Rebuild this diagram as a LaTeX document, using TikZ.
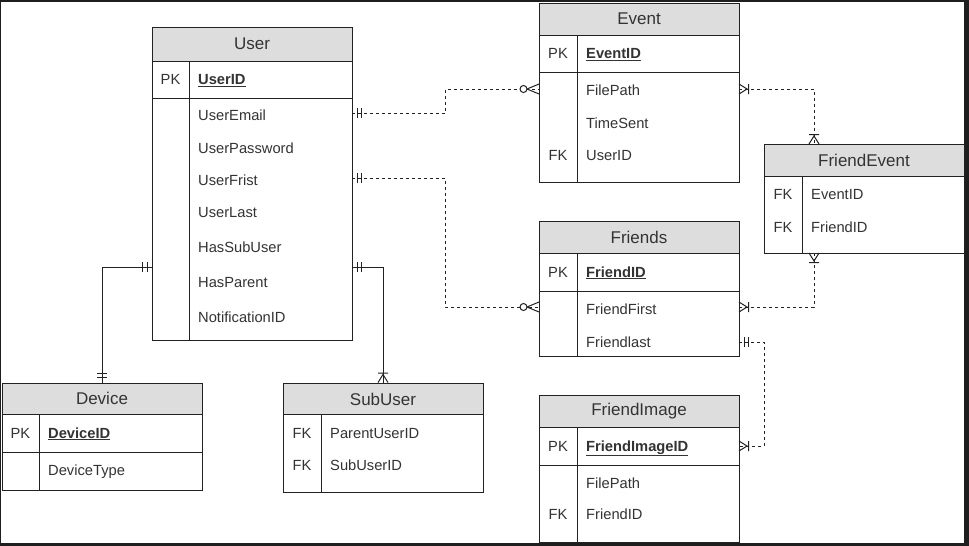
\documentclass[tikz,border=0pt]{standalone}
\usepackage{fontspec}
\setmainfont{Liberation Sans}
\definecolor{hdr}{HTML}{DDDDDD}
\definecolor{ink}{HTML}{222222}
\definecolor{txt}{HTML}{333333}
\definecolor{framecol}{HTML}{1E1E1E}
\tikzset{
  tbl/.style={draw=ink, line width=1pt, inner sep=0pt, anchor=north west, minimum width=200pt},
  sepline/.style={draw=ink, line width=1pt},
  ttl/.style={text=txt, font=\fontsize{17}{20}\selectfont, inner sep=0pt},
  fld/.style={text=txt, font=\fontsize{14.7}{17}\selectfont, inner sep=0pt, anchor=base west},
  keylbl/.style={text=txt, font=\fontsize{14.7}{17}\selectfont, inner sep=0pt, anchor=base},
  rel/.style={draw=ink, line width=1pt, dash pattern=on 3pt off 3pt},
  relsolid/.style={draw=ink, line width=1pt},
  mandone/.pic={\draw[ink, line width=1pt, solid] (5,-5)--(5,5) (9.5,-5)--(9.5,5);},
  onemany/.pic={\draw[ink, line width=1pt, solid] (0,-5)--(8,0)--(0,5) (9.5,-5)--(9.5,5);},
  zeromany/.pic={\draw[ink, line width=1pt, solid] (0,-5)--(12,0)--(0,5);
                 \draw[ink, line width=1pt, solid, fill=white] (15.5,0) circle[radius=3.5pt];},
}
\newcommand{\pkname}[1]{\underline{\textbf{#1}}}
\begin{document}
\begin{tikzpicture}[x=1pt,y=-1pt]
\useasboundingbox (0,0) rectangle (969,546);
\fill[framecol] (0,0) rectangle (969,546);
\fill[white] (1,2) rectangle (964,542.5);

% ---------- User ----------
\fill[hdr] (152,27) rectangle (352,61);
\node[tbl, minimum height=313pt] (user) at (152,27) {};
\draw[sepline] (152,61) -- (352,61) (152,98) -- (352,98) (189,61) -- (189,340);
\node[ttl] (userT) at (252,44) {User};
\node[keylbl] (userPK) at (170.5,84.5) {PK};
\node[fld] (userF0) at (198,84.5) {\pkname{UserID}};
\node[fld] (userF1) at (198,120) {UserEmail};
\node[fld] (userF2) at (198,153) {UserPassword};
\node[fld] (userF3) at (198,185) {UserFrist};
\node[fld] (userF4) at (198,217) {UserLast};
\node[fld] (userF5) at (198,252) {HasSubUser};
\node[fld] (userF6) at (198,287) {HasParent};
\node[fld] (userF7) at (198,322) {NotificationID};

% ---------- Event ----------
\fill[hdr] (539,3) rectangle (739,35);
\node[tbl, minimum height=179pt] (event) at (539,3) {};
\draw[sepline] (539,35) -- (739,35) (539,72) -- (739,72) (577,35) -- (577,182);
\node[ttl] (eventT) at (639,19) {Event};
\node[keylbl] (eventPK) at (558,58.5) {PK};
\node[fld] (eventF0) at (586,58.5) {\pkname{EventID}};
\node[fld] (eventF1) at (586,95) {FilePath};
\node[fld] (eventF2) at (586,128) {TimeSent};
\node[keylbl] (eventFK) at (558,160) {FK};
\node[fld] (eventF3) at (586,160) {UserID};

% ---------- FriendEvent ----------
\fill[hdr] (764,144) rectangle (964,176);
\node[tbl, minimum height=109pt] (fevent) at (764,144) {};
\draw[sepline] (764,176) -- (964,176) (802,176) -- (802,253);
\node[ttl] (feventT) at (864,160.5) {FriendEvent};
\node[keylbl] (feventK1) at (783,199) {FK};
\node[fld] (feventF1) at (811,199) {EventID};
\node[keylbl] (feventK2) at (783,232) {FK};
\node[fld] (feventF2) at (811,232) {FriendID};

% ---------- Friends ----------
\fill[hdr] (539,221) rectangle (739,253);
\node[tbl, minimum height=135pt] (friends) at (539,221) {};
\draw[sepline] (539,253) -- (739,253) (539,291) -- (739,291) (577,253) -- (577,356);
\node[ttl] (friendsT) at (639,237.5) {Friends};
\node[keylbl] (friendsPK) at (558,277) {PK};
\node[fld] (friendsF0) at (586,277) {\pkname{FriendID}};
\node[fld] (friendsF1) at (586,314) {FriendFirst};
\node[fld] (friendsF2) at (586,347) {Friendlast};

% ---------- FriendImage ----------
\fill[hdr] (539,395) rectangle (739,427);
\node[tbl, minimum height=147pt] (fimage) at (539,395) {};
\draw[sepline] (539,427) -- (739,427) (539,465) -- (739,465) (577,427) -- (577,542);
\node[ttl] (fimageT) at (639,411.5) {FriendImage};
\node[keylbl] (fimagePK) at (558,451) {PK};
\node[fld] (fimageF0) at (586,451) {\pkname{FriendImageID}};
\node[fld] (fimageF1) at (586,488) {FilePath};
\node[keylbl] (fimageFK) at (558,519.5) {FK};
\node[fld] (fimageF2) at (586,519.5) {FriendID};

% ---------- Device ----------
\fill[hdr] (2,382.5) rectangle (202,414.3);
\node[tbl, minimum height=107pt] (device) at (2,382.5) {};
\draw[sepline] (2,414.3) -- (202,414.3) (2,452) -- (202,452) (39,414.3) -- (39,489.5);
\node[ttl] (deviceT) at (102,398.5) {Device};
\node[keylbl] (devicePK) at (20.5,438) {PK};
\node[fld] (deviceF0) at (48,438) {\pkname{DeviceID}};
\node[fld] (deviceF1) at (48,475) {DeviceType};

% ---------- SubUser ----------
\fill[hdr] (283,382.5) rectangle (483,414.3);
\node[tbl, minimum height=109pt] (subuser) at (283,382.5) {};
\draw[sepline] (283,414.3) -- (483,414.3) (321,414.3) -- (321,491.5);
\node[ttl] (subuserT) at (383,399) {SubUser};
\node[keylbl] (subuserK1) at (302,438) {FK};
\node[fld] (subuserF1) at (330,438) {ParentUserID};
\node[keylbl] (subuserK2) at (302,470) {FK};
\node[fld] (subuserF2) at (330,470) {SubUserID};

% ---------- connection points ----------
\coordinate (uE) at (352,113);
\coordinate (uF) at (352,178);
\coordinate (uS) at (352,267);
\coordinate (uD) at (152,267);
\coordinate (eL) at (539,89);
\coordinate (eR) at (739,89);
\coordinate (fL) at (539,307);
\coordinate (fR1) at (739,307);
\coordinate (fR2) at (739,342);
\coordinate (feT) at (814,144);
\coordinate (feB) at (814,253);
\coordinate (fiR) at (739,446);
\coordinate (suT) at (383,382.5);
\coordinate (dvT) at (102,382.5);
\coordinate (m1) at (445.5,100);
\coordinate (m2) at (445.5,250);
\coordinate (m7) at (764,400);

% ---------- connectors ----------
\draw[rel] (uE) -| (m1) |- (eL);
\draw[rel] (uF) -| (m2) |- (fL);
\draw[relsolid] (uS) -| (suT);
\draw[relsolid] (uD) -| (dvT);
\draw[rel] (eR) -| (feT);
\draw[rel] (feB) |- (fR1);
\draw[rel] (fR2) -| (m7) |- (fiR);

% ---------- markers ----------
\pic at (uE) {mandone};
\pic[rotate=180] at (eL) {zeromany};
\pic at (uF) {mandone};
\pic[rotate=180] at (fL) {zeromany};
\pic at (uS) {mandone};
\pic[rotate=90] at (suT) {onemany};
\pic[rotate=180] at (uD) {mandone};
\pic[rotate=90] at (dvT) {mandone};
\pic at (eR) {onemany};
\pic[rotate=90] at (feT) {onemany};
\pic[rotate=-90] at (feB) {onemany};
\pic at (fR1) {onemany};
\pic at (fR2) {mandone};
\pic at (fiR) {onemany};
\end{tikzpicture}
\end{document}
